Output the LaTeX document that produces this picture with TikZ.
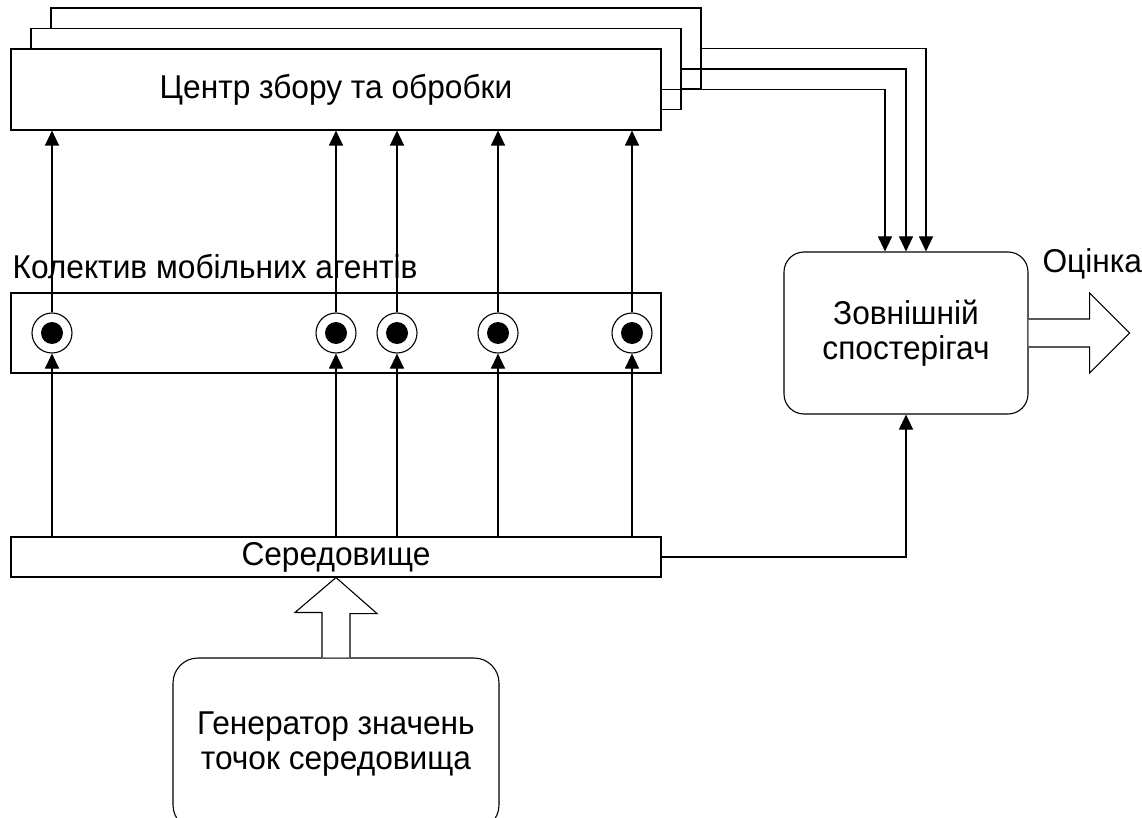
\documentclass[tikz,border=0pt]{standalone}
\usepackage{fontspec}
\setmainfont{Liberation Sans}[FakeStretch=0.96]
\usetikzlibrary{arrows.meta,calc}
\begin{document}
\begin{tikzpicture}[x=1pt,y=-1pt,
  font=\fontsize{33}{35}\selectfont,
  every path/.style={line width=1.1pt},
  box/.style={draw, fill=white, inner sep=0pt, line width=1.1pt},
  rbox/.style={box, rounded corners=20pt, align=center},
  agent/.style={circle, draw, fill=white, minimum size=40pt, inner sep=0pt, line width=1.1pt},
  dot/.style={circle, fill=black, minimum size=22pt, inner sep=0pt},
  arr/.style={-{Triangle[width=14pt,length=15pt]}, line width=1.1pt},
  fat/.style={draw, fill=white, line width=1.1pt, line join=miter},
  lbl/.style={inner sep=0pt}
]
\useasboundingbox (0,0) rectangle (1142,818);

% stacked collection centres
\node[box, minimum width=650pt, minimum height=81pt] (back) at (376,48.5) {};
\node[box, minimum width=650pt, minimum height=81pt] (mid) at (356,69) {};
\node[box, minimum width=650pt, minimum height=81pt] (front) at (336,89.5) {Центр збору та обробки};

% agents collective
\node[box, minimum width=650pt, minimum height=80pt] (coll) at (336,333) {};
\node[lbl, anchor=base west] (colllbl) at (12,278) {Колектив мобільних агентів};

% environment
\node[box, minimum width=650pt, minimum height=40pt] (env) at (336,557) {Середовище};

% generator
\node[rbox, rounded corners=25pt, minimum width=326pt, minimum height=172pt] (gen) at (336,744)
  {Генератор значень\\точок середовища};

% observer
\node[rbox, minimum width=244pt, minimum height=162pt] (obs) at (906,333)
  {Зовнішній\\спостерігач};
\node[lbl, anchor=base west] (est) at (1042,272) {Оцінка};

% agents
\foreach \i/\x in {1/52,2/336,3/397,4/498,5/632}{
  \node[agent] (a\i) at (\x,333) {};
  \node[dot] (d\i) at (a\i.center) {};
  \draw[arr] (a\i |- env.north) -- (a\i.south);
  \draw[arr] (a\i.north) -- (a\i |- front.south);
}

% centres to observer
\draw[arr] (back.east) -| ($(obs.north)+(20,0)$);
\draw[arr] (mid.east) -| (obs.north);
\draw[arr] (front.east) -| ($(obs.north)+(-21,0)$);

% environment to observer
\draw[arr] (env.east) -| (obs.south);

% big arrow generator -> environment
\draw[fat] ($(gen.north)+(-14,0)$) -- ++(0,-45) -- ++(-27,0) -- (env.south)
  -- ++(41,36) -- ++(-27,0) -- ($(gen.north)+(14,0)$);

% output arrow
\draw[fat] ($(obs.east)+(0,-14)$) -- ++(61,0) -- ++(0,-26) -- ++(40,40)
  -- ++(-40,40) -- ++(0,-26) -- ++(-61,0);
\end{tikzpicture}
\end{document}
